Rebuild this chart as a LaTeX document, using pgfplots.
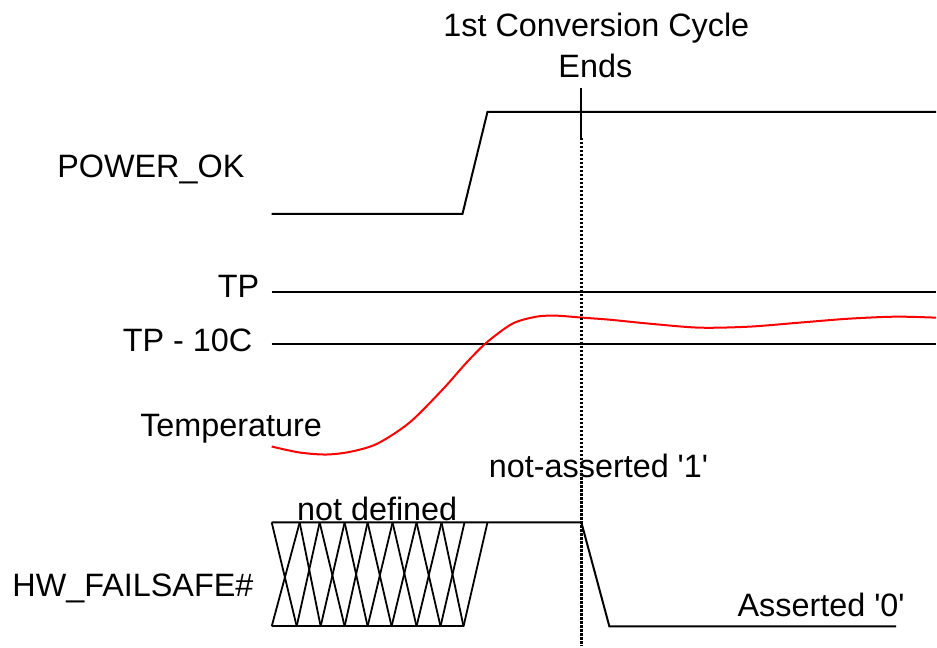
\documentclass[border=0pt]{standalone}
\usepackage{pgfplots}
\pgfplotsset{compat=1.18}
\usepackage{fontspec}
\setmainfont{Liberation Sans}
\newcommand\lf{\fontsize{16.2}{19}\selectfont}
\begin{document}
\begin{tikzpicture}[every node/.append style={font=\lf}]
\begin{axis}[
  scale only axis, width=468.5pt, height=323.5pt,
  xmin=0, xmax=937, ymin=0, ymax=647, y dir=reverse,
  hide axis, clip=false,
]
\addplot[draw=none] coordinates {(0,0) (937,647)};
% POWER_OK
\addplot[black, line width=1pt] coordinates {(272,214) (463,214) (488,112) (937,112)};
% TP and TP-10C
\addplot[black, line width=1pt] coordinates {(272,292) (937,292)};
\addplot[black, line width=1pt] coordinates {(272,344) (937,344)};
% Temperature
\addplot[red, line width=1pt, smooth] coordinates {
 (272,447) (300,453) (327,455) (352,452) (378,444) (410,423) (443,390) (467,363)
 (487,343) (513,324) (537,317) (557,316) (583,318) (610,320) (650,324) (700,328)
 (750,327) (800,323) (850,319) (897,317) (937,318)};
% Conversion cycle marker
\addplot[black, line width=1pt] coordinates {(582,88) (582,138)};
\addplot[black, line width=1.2pt, dash pattern=on 1.2pt off 0.8pt] coordinates {(582,138) (582,647)};
% HW_FAILSAFE
\addplot[black, line width=1pt] coordinates {(272,523) (582,523) (610,627) (897,627)};
\addplot[black, line width=1pt] coordinates {(272,627) (464,627)};
% hatched undefined region
\foreach \a/\b in {272/297, 300/321, 320/345, 345/368, 368/392, 393/417, 417/441, 442/464} {
  \edef\tmp{\noexpand\addplot[black, line width=0.9pt] coordinates {(\a,523) (\b,627)};}\tmp
}
\foreach \a/\b in {272/300, 297/320, 321/345, 345/368, 368/393, 392/417, 417/442, 441/465, 464/488} {
  \edef\tmp{\noexpand\addplot[black, line width=0.9pt] coordinates {(\a,627) (\b,523)};}\tmp
}
% labels
\node[anchor=base, inner sep=0pt, font=\lf] at (axis cs:597,37) {1st Conversion Cycle};
\node[anchor=base, inner sep=0pt, font=\lf] at (axis cs:596,78) {Ends};
\node[anchor=base west, inner sep=0pt, font=\lf] at (axis cs:57,178) {POWER\_OK};
\node[anchor=base east, inner sep=0pt, font=\lf] at (axis cs:260,298) {TP};
\node[anchor=base east, inner sep=0pt, font=\lf] at (axis cs:253,352) {TP - 10C};
\node[anchor=base west, inner sep=0pt, font=\lf] at (axis cs:140,437) {Temperature};
\node[anchor=base west, inner sep=0pt, font=\lf] at (axis cs:489,478) {not-asserted \textquotesingle1\textquotesingle};
\node[anchor=base west, inner sep=0pt, font=\lf] at (axis cs:297,521) {not defined};
\node[anchor=base west, inner sep=0pt, font=\lf] at (axis cs:12,597) {HW\_FAILSAFE\#};
\node[anchor=base west, inner sep=0pt, font=\lf] at (axis cs:738,617) {Asserted \textquotesingle0\textquotesingle};
\end{axis}
\end{tikzpicture}
\end{document}
